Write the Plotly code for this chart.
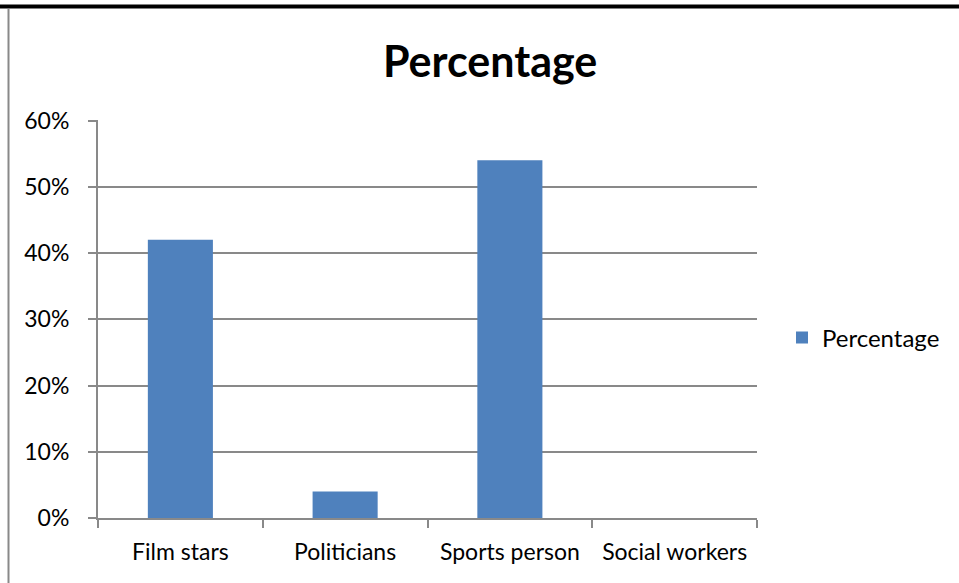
import plotly.graph_objects as go

categories = ["Film stars", "Politicians", "Sports person", "Social workers"]
percentages = [0.42, 0.04, 0.54, 0.0]
series_name = "Percentage"
y_ticks = [0, 0.1, 0.2, 0.3, 0.4, 0.5, 0.6]

W, H = 959, 583
L, R, T, B = 98, 757, 120, 518  # plot area in pixels

def px_x(p):
    return (p - L) / (R - L)

def px_y(p):
    return (B - p) / (B - T)

FONT = "Lato"
GRID = "#898989"

fig = go.Figure(
    go.Bar(
        x=categories,
        y=percentages,
        name=series_name,
        marker=dict(color="#4F81BD", line=dict(width=0)),
        showlegend=True,
    )
)

fig.update_layout(
    width=W,
    height=H,
    margin=dict(l=L, r=W - R, t=T, b=H - B, pad=0),
    paper_bgcolor="white",
    plot_bgcolor="white",
    bargap=0.605,
    font=dict(family=FONT, size=24, color="#000000"),
    showlegend=True,
    legend=dict(
        x=px_x(782),
        y=px_y(338),
        xanchor="left",
        yanchor="middle",
        font=dict(family=FONT, size=24, color="#000000"),
        itemwidth=30,
        bgcolor="rgba(0,0,0,0)",
    ),
    annotations=[
        dict(
            text="<b>Percentage</b>",
            x=px_x(490),
            y=px_y(60),
            xref="paper",
            yref="paper",
            xanchor="center",
            yanchor="middle",
            showarrow=False,
            font=dict(family=FONT, size=43, color="#000000"),
        )
    ],
    shapes=[
        # outer frame: heavy top rule and thin left edge
        dict(type="line", xref="paper", yref="paper",
             x0=px_x(0), x1=px_x(W), y0=px_y(6.5), y1=px_y(6.5),
             line=dict(color="#000000", width=4)),
        dict(type="line", xref="paper", yref="paper",
             x0=px_x(8.5), x1=px_x(8.5), y0=px_y(9), y1=px_y(H),
             line=dict(color=GRID, width=2)),
    ],
)

fig.update_xaxes(
    type="category",
    showline=True,
    linecolor=GRID,
    linewidth=2,
    showgrid=False,
    ticks="outside",
    tickson="boundaries",
    ticklen=8,
    tickwidth=2,
    tickcolor=GRID,
    ticklabelstandoff=12,
    tickfont=dict(family=FONT, size=23, color="#000000"),
)

fig.update_yaxes(
    range=[0, 0.6008],
    tickvals=y_ticks,
    tickformat=".0%",
    showline=True,
    linecolor=GRID,
    linewidth=2,
    showgrid=True,
    gridcolor=GRID,
    gridwidth=2,
    zeroline=False,
    ticks="outside",
    ticklen=8,
    tickwidth=2,
    tickcolor=GRID,
    ticklabelstandoff=14,
    tickfont=dict(family=FONT, size=23, color="#000000"),
)

fig.write_html("out.html")
